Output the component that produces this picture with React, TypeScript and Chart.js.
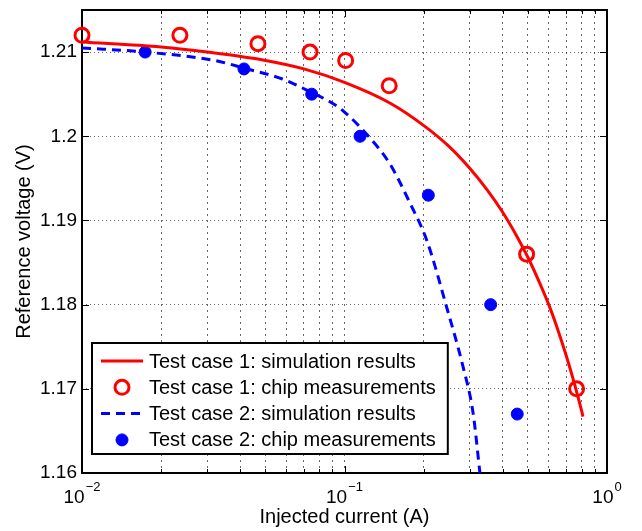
import React, { useEffect, useRef } from "react";
import { Chart, registerables } from "chart.js";

Chart.register(...registerables);

const FONT = "'Liberation Sans', Arial, Helvetica, sans-serif";
const RED = "#ff0000";
const BLUE = "#0000ff";

// Test case 1: simulation curve
const sim1Current = [0.01, 0.02, 0.03, 0.05, 0.07, 0.1, 0.15, 0.2, 0.25, 0.3, 0.35, 0.4, 0.45, 0.5, 0.55, 0.6, 0.65, 0.7, 0.75, 0.8, 0.81];
const sim1Voltage = [1.2112, 1.2106, 1.21, 1.209, 1.208, 1.2064, 1.2039, 1.2013, 1.1988, 1.1962, 1.1936, 1.191, 1.1883, 1.1856, 1.1828, 1.18, 1.177, 1.1739, 1.1707, 1.1674, 1.1667];

// Test case 1: chip measurements
const meas1Current = [0.01, 0.0236, 0.0468, 0.0739, 0.101, 0.148, 0.494, 0.766];
const meas1Voltage = [1.212, 1.212, 1.211, 1.21, 1.209, 1.206, 1.186, 1.17];

// Test case 2: simulation curve
const sim2Current = [0.01, 0.0175, 0.032, 0.0414, 0.058, 0.075, 0.088, 0.099, 0.125, 0.149, 0.178, 0.206, 0.2455, 0.283, 0.309, 0.328];
const sim2Voltage = [1.2105, 1.21, 1.209, 1.2081, 1.2068, 1.2052, 1.2041, 1.203, 1.1998, 1.1967, 1.192, 1.1876, 1.1796, 1.1726, 1.1671, 1.16];

// Test case 2: chip measurements
const meas2Current = [0.0174, 0.0414, 0.075, 0.1146, 0.2086, 0.3604, 0.455];
const meas2Voltage = [1.21, 1.208, 1.205, 1.2, 1.193, 1.18, 1.167];

const seriesLabels = [
  "Test case 1: simulation results",
  "Test case 1: chip measurements",
  "Test case 2: simulation results",
  "Test case 2: chip measurements",
];

const xMajorTicks = [0.01, 0.1, 1];
const xTickExponents = ["\u22122", "\u22121", "0"];
const yTicks = [1.16, 1.17, 1.18, 1.19, 1.2, 1.21];
const yTickLabels = ["1.16", "1.17", "1.18", "1.19", "1.2", "1.21"];
const xTitle = "Injected current (A)";
const yTitle = "Reference voltage (V)";

const xAllTicks: number[] = [];
for (let i = 0; i < xMajorTicks.length - 1; i++) {
  for (let m = 1; m <= 9; m++) xAllTicks.push(+(xMajorTicks[i] * m).toPrecision(6));
}
xAllTicks.push(xMajorTicks[xMajorTicks.length - 1]);

const toPts = (xs: number[], ys: number[]) => xs.map((x, i) => ({ x, y: ys[i] }));

const GRID_COLOR = "rgba(0,0,0,0.6)";
const LEGEND_FONT = `20px ${FONT}`;

const framePlugin = {
  id: "matlabFrame",
  beforeDatasetsDraw(chart: any) {
    const { ctx, chartArea } = chart;
    const { left, right, top, bottom } = chartArea;
    const xs = chart.scales.x;
    const ys = chart.scales.y;
    ctx.save();
    ctx.strokeStyle = "#000";
    ctx.lineWidth = 1;
    ctx.setLineDash([]);
    ctx.beginPath();
    for (const v of xAllTicks) {
      const px = Math.round(xs.getPixelForValue(v)) + 0.5;
      const len = xMajorTicks.includes(v) ? 7 : 4;
      ctx.moveTo(px, bottom);
      ctx.lineTo(px, bottom - len);
      ctx.moveTo(px, top);
      ctx.lineTo(px, top + len);
    }
    for (const v of yTicks) {
      const py = Math.round(ys.getPixelForValue(v)) + 0.5;
      ctx.moveTo(left, py);
      ctx.lineTo(left + 7, py);
      ctx.moveTo(right, py);
      ctx.lineTo(right - 7, py);
    }
    ctx.stroke();
    ctx.lineWidth = 2;
    ctx.strokeRect(left, top, right - left, bottom - top);
    ctx.restore();
  },
  afterDraw(chart: any) {
    const { ctx, chartArea } = chart;
    const { left, bottom } = chartArea;
    const xs = chart.scales.x;
    ctx.save();
    // x tick labels with superscript exponents
    ctx.fillStyle = "#000";
    ctx.textBaseline = "alphabetic";
    ctx.textAlign = "left";
    xMajorTicks.forEach((v, i) => {
      const px = xs.getPixelForValue(v);
      ctx.font = `19px ${FONT}`;
      const wb = ctx.measureText("10").width;
      ctx.font = `13px ${FONT}`;
      const we = ctx.measureText(xTickExponents[i]).width;
      const start = px - (wb + we + 1) / 2;
      ctx.font = `19px ${FONT}`;
      ctx.fillText("10", start, bottom + 30);
      ctx.font = `13px ${FONT}`;
      ctx.fillText(xTickExponents[i], start + wb + 1, bottom + 18);
    });

    // legend
    const lx = left + 10;
    const ly = bottom - 130;
    ctx.font = LEGEND_FONT;
    let maxW = 0;
    seriesLabels.forEach((t) => (maxW = Math.max(maxW, ctx.measureText(t).width)));
    const textX = lx + 57;
    const bw = textX - lx + maxW + 12;
    const bh = 111;
    ctx.fillStyle = "#fff";
    ctx.fillRect(lx, ly, bw, bh);
    ctx.strokeStyle = "#000";
    ctx.lineWidth = 2;
    ctx.strokeRect(lx, ly, bw, bh);
    const datasets = chart.data.datasets;
    datasets.forEach((ds: any, i: number) => {
      const cy = ly + 18 + 26.3 * i;
      ctx.save();
      if (ds.showLine) {
        ctx.strokeStyle = ds.borderColor;
        ctx.lineWidth = ds.borderWidth;
        ctx.setLineDash(ds.borderDash || []);
        ctx.beginPath();
        ctx.moveTo(lx + 9, cy);
        ctx.lineTo(lx + 51, cy);
        ctx.stroke();
      } else {
        ctx.beginPath();
        ctx.arc(lx + 30, cy, ds.pointRadius, 0, Math.PI * 2);
        if (ds.pointBackgroundColor && ds.pointBackgroundColor !== "transparent") {
          ctx.fillStyle = ds.pointBackgroundColor;
          ctx.fill();
        }
        ctx.strokeStyle = ds.pointBorderColor;
        ctx.lineWidth = ds.pointBorderWidth;
        ctx.stroke();
      }
      ctx.restore();
      ctx.fillStyle = "#000";
      ctx.font = LEGEND_FONT;
      ctx.textBaseline = "middle";
      ctx.fillText(ds.label, textX, cy + 1);
    });
    ctx.restore();
  },
};

export default function App() {
  const ref = useRef<HTMLCanvasElement | null>(null);
  useEffect(() => {
    if (!ref.current) return;
    const chart = new Chart(ref.current, {
      type: "scatter",
      data: {
        datasets: [
          {
            label: seriesLabels[0],
            data: toPts(sim1Current, sim1Voltage),
            showLine: true,
            borderColor: RED,
            borderWidth: 3,
            pointRadius: 0,
            cubicInterpolationMode: "monotone",
          } as any,
          {
            label: seriesLabels[1],
            data: toPts(meas1Current, meas1Voltage),
            showLine: false,
            pointRadius: 7,
            pointBackgroundColor: "transparent",
            pointBorderColor: RED,
            pointBorderWidth: 3,
            clip: false,
          },
          {
            label: seriesLabels[2],
            data: toPts(sim2Current, sim2Voltage),
            showLine: true,
            borderColor: BLUE,
            borderWidth: 3,
            borderDash: [9, 6],
            pointRadius: 0,
            cubicInterpolationMode: "monotone",
          },
          {
            label: seriesLabels[3],
            data: toPts(meas2Current, meas2Voltage),
            showLine: false,
            pointRadius: 6,
            pointBackgroundColor: BLUE,
            pointBorderColor: BLUE,
            pointBorderWidth: 1,
            clip: false,
          },
        ],
      },
      options: {
        animation: false,
        responsive: false,
        layout: { padding: { top: 8, right: 35, left: 0, bottom: 0 } },
        plugins: { legend: { display: false }, tooltip: { enabled: false } },
        scales: {
          x: {
            type: "logarithmic",
            min: 0.01,
            max: 1,
            afterBuildTicks: (s: any) => {
              s.ticks = xAllTicks.map((v) => ({ value: v }));
            },
            afterFit: (s: any) => {
              s.height = 58;
              s.paddingLeft = 0;
              s.paddingRight = 0;
            },
            ticks: { display: false, autoSkip: false },
            grid: { color: GRID_COLOR, lineWidth: 1, drawTicks: false },
            border: { display: false, dash: [2, 4] },
            title: {
              display: true,
              text: xTitle,
              color: "#000",
              font: { family: FONT, size: 20 },
              padding: { top: 0, bottom: 2 },
            },
          },
          y: {
            type: "linear",
            min: 1.16,
            max: 1.215,
            afterBuildTicks: (s: any) => {
              s.ticks = yTicks.map((v) => ({ value: v }));
            },
            afterFit: (s: any) => {
              s.width = 82;
              s.paddingTop = 0;
              s.paddingBottom = 0;
            },
            ticks: {
              callback: (_v: any, i: number) => yTickLabels[i],
              padding: 5,
              color: "#000",
              font: { family: FONT, size: 19 },
              autoSkip: false,
            },
            grid: { color: GRID_COLOR, lineWidth: 1, drawTicks: false },
            border: { display: false, dash: [1, 3] },
            title: {
              display: true,
              text: yTitle,
              color: "#000",
              font: { family: FONT, size: 20 },
              padding: { top: 12, bottom: 0 },
            },
          },
        },
      },
      plugins: [framePlugin],
    });
    return () => chart.destroy();
  }, []);
  return (
    <div style={{ position: "absolute", left: 0, top: 0, width: 642, height: 531, background: "#fff" }}>
      <canvas ref={ref} width={642} height={531} style={{ display: "block" }} />
    </div>
  );
}
